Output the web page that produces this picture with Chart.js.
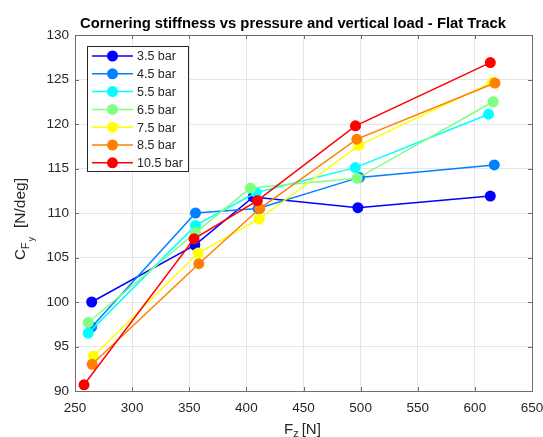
<!DOCTYPE html>
<html>
<head>
<meta charset="utf-8">
<script src="https://cdn.jsdelivr.net/npm/chart.js@4"></script>
<style>
  html, body { margin: 0; padding: 0; background: #fff; }
  #wrap { width: 543px; height: 437px; position: relative; }
</style>
</head>
<body>
<div id="wrap"><canvas id="chart" width="543" height="437"></canvas></div>
<script>
const TITLE = "Cornering stiffness vs pressure and vertical load - Flat Track";
const pressures = ["3.5 bar", "4.5 bar", "5.5 bar", "6.5 bar", "7.5 bar", "8.5 bar", "10.5 bar"];
const colors = ["#0000ff", "#0080ff", "#00ffff", "#80ff80", "#ffff00", "#ff8000", "#ff0000"];

// vertical load F_z [N] per pressure
const load35 = [264.6, 354.9, 406.0, 497.6, 613.5];
const load45 = [264.6, 355.5, 410.2, 499.0, 617.0];
const load55 = [261.6, 355.5, 408.7, 495.3, 612.0];
const load65 = [261.6, 355.5, 403.5, 497.0, 616.0];
const load75 = [266.0, 357.8, 411.0, 498.5, 615.5];
const load85 = [265.0, 358.4, 411.7, 496.7, 617.6];
const load105 = [257.9, 354.2, 409.6, 495.5, 613.5];

// cornering stiffness [N/deg]
const cf35 = [100.0, 106.4, 111.8, 110.6, 111.9];
const cf45 = [97.2, 110.0, 110.5, 114.0, 115.4];
const cf55 = [96.5, 108.6, 112.3, 115.1, 121.1];
const cf65 = [97.7, 107.8, 112.8, 113.9, 122.5];
const cf75 = [93.9, 105.5, 109.3, 117.6, 124.7];
const cf85 = [93.0, 104.3, 110.5, 118.3, 124.6];
const cf105 = [90.7, 107.1, 111.4, 119.8, 126.9];

const xTicks = [250, 300, 350, 400, 450, 500, 550, 600, 650];
const yTicks = [90, 95, 100, 105, 110, 115, 120, 125, 130];

const loads = [load35, load45, load55, load65, load75, load85, load105];
const stiffness = [cf35, cf45, cf55, cf65, cf75, cf85, cf105];

const FONT = "'Liberation Sans', Arial, sans-serif";
const TEXT = "#262626";
const AXIS = "#6e6e6e";

const datasets = pressures.map((label, i) => ({
  label,
  data: loads[i].map((x, j) => ({ x, y: stiffness[i][j] })),
  borderColor: colors[i],
  backgroundColor: colors[i],
  borderWidth: 1.5,
  pointRadius: 5.5,
  pointBorderWidth: 0,
  pointHoverRadius: 5.5,
  order: pressures.length - i,
  tension: 0,
}));

// title, axis labels, box, inward ticks and legend
const decorations = {
  id: "decorations",
  afterDraw(chart) {
    const { ctx, chartArea: a, scales } = chart;
    ctx.save();

    // box
    ctx.strokeStyle = AXIS;
    ctx.lineWidth = 1;
    ctx.strokeRect(Math.round(a.left) + 0.5, Math.round(a.top) + 0.5,
      Math.round(a.right - a.left), Math.round(a.bottom - a.top));

    // inward ticks
    ctx.beginPath();
    xTicks.forEach((v) => {
      const px = Math.round(scales.x.getPixelForValue(v)) + 0.5;
      ctx.moveTo(px, a.bottom); ctx.lineTo(px, a.bottom - 4);
      ctx.moveTo(px, a.top); ctx.lineTo(px, a.top + 4);
    });
    yTicks.forEach((v) => {
      const py = Math.round(scales.y.getPixelForValue(v)) + 0.5;
      ctx.moveTo(a.left, py); ctx.lineTo(a.left + 4, py);
      ctx.moveTo(a.right, py); ctx.lineTo(a.right - 4, py);
    });
    ctx.stroke();

    // title
    ctx.fillStyle = "#000";
    ctx.font = "bold 14.8px " + FONT;
    ctx.textAlign = "center";
    ctx.textBaseline = "alphabetic";
    ctx.fillText(TITLE, 293, 28);

    // x label F_z [N]
    ctx.fillStyle = TEXT;
    ctx.textAlign = "left";
    ctx.font = "15px " + FONT;
    let x = 284;
    ctx.fillText("F", x, 434);
    x += ctx.measureText("F").width;
    ctx.font = "11px " + FONT;
    ctx.fillText("z", x, 437);
    x += ctx.measureText("z").width + 3;
    ctx.font = "15px " + FONT;
    ctx.fillText("[N]", x, 434);

    // y label C_{F_y} [N/deg]
    ctx.save();
    ctx.translate(25, 260);
    ctx.rotate(-Math.PI / 2);
    ctx.font = "15px " + FONT;
    x = 0;
    ctx.fillText("C", x, 0);
    x += ctx.measureText("C").width;
    ctx.font = "11px " + FONT;
    ctx.fillText("F", x, 4);
    x += ctx.measureText("F").width + 1;
    ctx.font = "9px " + FONT;
    ctx.fillText("y", x, 9);
    x += ctx.measureText("y").width + 9;
    ctx.font = "15.5px " + FONT;
    ctx.fillText("[N/deg]", x, 0);
    ctx.restore();

    // legend
    const lx = 87, ly = 46, lw = 101, lh = 125;
    ctx.fillStyle = "#fff";
    ctx.fillRect(lx, ly, lw, lh);
    ctx.strokeStyle = "#262626";
    ctx.lineWidth = 1;
    ctx.strokeRect(lx + 0.5, ly + 0.5, lw, lh);
    ctx.font = "12.5px " + FONT;
    ctx.textBaseline = "middle";
    pressures.forEach((label, i) => {
      const y = 56 + i * 17.8;
      ctx.strokeStyle = colors[i];
      ctx.lineWidth = 1.5;
      ctx.beginPath();
      ctx.moveTo(92, y); ctx.lineTo(133, y);
      ctx.stroke();
      ctx.fillStyle = colors[i];
      ctx.beginPath();
      ctx.arc(112.5, y, 5.5, 0, Math.PI * 2);
      ctx.fill();
      ctx.fillStyle = TEXT;
      ctx.fillText(label, 137, y + 1);
    });

    ctx.restore();
  },
};

new Chart(document.getElementById("chart"), {
  type: "line",
  data: { datasets },
  options: {
    responsive: false,
    animation: false,
    layout: { padding: { left: 0, right: 0, top: 35, bottom: 0 } },
    plugins: { legend: { display: false }, tooltip: { enabled: false } },
    scales: {
      x: {
        type: "linear",
        min: 250,
        max: 650,
        afterBuildTicks: (s) => { s.ticks = xTicks.map((v) => ({ value: v })); },
        afterFit: (s) => { s.height = 46; s.paddingRight = 11; s.paddingLeft = 0; },
        grid: { color: "#e6e6e6", drawTicks: false },
        border: { display: false },
        ticks: { color: TEXT, font: { family: FONT, size: 13.5 }, padding: 9, maxRotation: 0 },
      },
      y: {
        type: "linear",
        min: 90,
        max: 130,
        afterBuildTicks: (s) => { s.ticks = yTicks.map((v) => ({ value: v })); },
        afterFit: (s) => { s.width = 75; s.paddingTop = 0; s.paddingBottom = 0; },
        grid: { color: "#e6e6e6", drawTicks: false },
        border: { display: false },
        ticks: { color: TEXT, font: { family: FONT, size: 13.5 }, padding: 6 },
      },
    },
  },
  plugins: [decorations],
});
</script>
</body>
</html>
